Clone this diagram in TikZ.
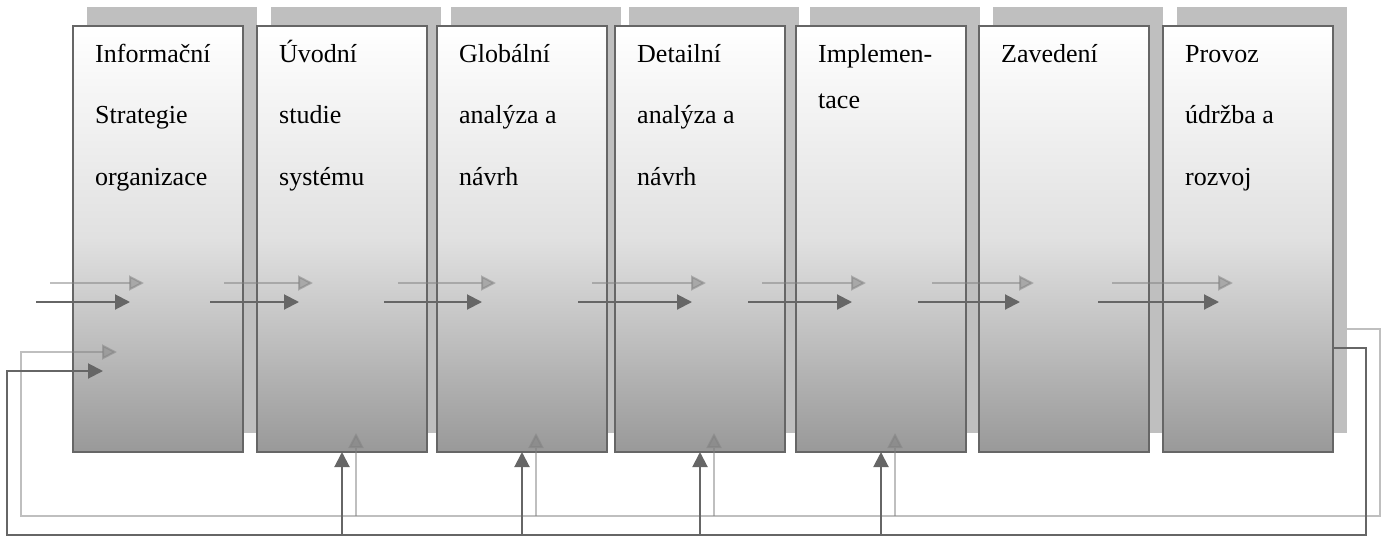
\documentclass[tikz,border=0pt]{standalone}
\usepackage{fontspec}
\setmainfont{Liberation Serif}
\usetikzlibrary{arrows.meta,shadows}

\definecolor{linegray}{gray}{0.4}
\definecolor{boxmid}{gray}{0.88}
\definecolor{boxbottom}{gray}{0.6}

\tikzset{
	phase/.style={draw=linegray, line width=2.5pt, top color=white, bottom color=boxbottom, middle color=boxmid,
		minimum width=170pt, minimum height=426pt, inner sep=0pt, outer sep=0pt, anchor=north west,
		drop shadow={shadow xshift=14pt, shadow yshift=19pt}},
	phasetext/.style={anchor=base west, align=left, inner sep=0pt, font=\fontsize{26}{61.5}\selectfont},
	flow/.style={line width=2pt, -{Triangle[length=15pt, width=15pt]}},
}

\begin{document}
\begin{tikzpicture}[x=1pt, y=-1pt]
		\useasboundingbox (0,0) rectangle (1384,536);
		
		% The seven phases with their names (text placed by its last baseline)
		\foreach \i/\x/\yb/\txt in {1/73/185/{Informační\\Strategie\\organizace}, 2/257/185/{Úvodní\\studie\\systému},
			3/437/185/{Globální\\analýza a\\návrh}, 4/615/185/{Detailní\\analýza a\\návrh}, 5/796/108/{Implemen-\\[-15.5pt]tace},
			6/979/62/{Zavedení}, 7/1163/185/{Provoz\\údržba a\\rozvoj}} {
			\node[phase] (b\i) at (\x,26) {};
			\node[phasetext] (t\i) at ({\x+22},\yb) {\txt};
		}
		
		% Ends of the flow arrows
		\foreach \i/\s/\e in {1/36/130, 2/210/299, 3/384/482, 4/578/692, 5/748/852, 6/918/1020, 7/1098/1219} {
			\coordinate (s\i) at (\s,302);
			\coordinate (e\i) at (\e,302);
		}
		
		% Corners of the feedback line
		\coordinate (fbr) at (1366,348);
		\coordinate (fbl) at (7,535);
		\coordinate (fbin) at (103,371);
		
		% Draw the connectors - first their shadow, then the connectors themselves
		\foreach \sx/\sy/\lc/\lo in {14/-19/black!50/0.5, 0/0/linegray/1} {
			\begin{scope}[transform canvas={shift={(\sx,\sy)}}, color=\lc, opacity=\lo]
				\foreach \i in {1,...,7}
					\draw[flow] (s\i) -- (e\i);
				\foreach \i in {2,...,5}
					\draw[flow] (b\i.south |- fbl) -- (b\i.south);
				\draw[flow] (b7.east |- fbr) -- (fbr) |- (fbl) |- (fbin);
			\end{scope}
		}
		
	\end{tikzpicture}
\end{document}
